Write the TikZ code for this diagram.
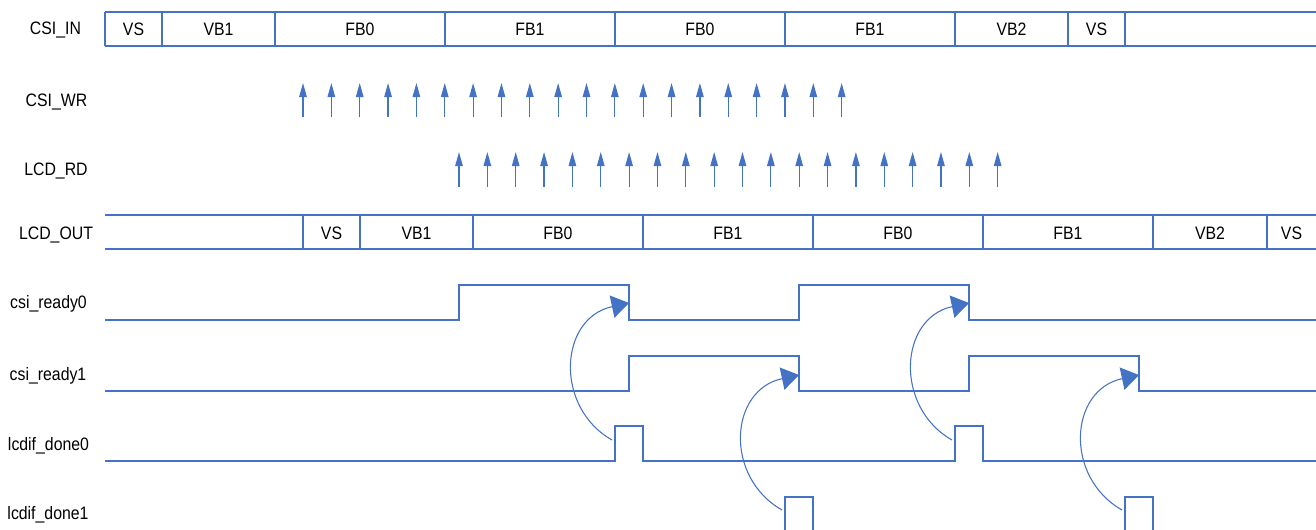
\documentclass[tikz,border=0pt]{standalone}
\usepackage{fontspec}
\setmainfont{Liberation Sans}[FakeStretch=0.88]
\usetikzlibrary{arrows.meta}
\definecolor{wblue}{HTML}{4472C4}
\begin{document}
\begin{tikzpicture}[x=0.75pt,y=-0.75pt,
  wire/.style={draw=wblue,line width=0.9pt},
  lbl/.style={font=\fontsize{13.5}{16}\selectfont,inner sep=0pt,anchor=base},
  tick/.style={draw=wblue,line width=0.9pt,-{Triangle[length=10.5pt,width=5.6pt]}},
  bendarrow/.style={draw=wblue,line width=0.8pt,-{Triangle[length=13pt,width=17pt]}},
]
\useasboundingbox (0,0) rectangle (1316,529);

% row labels
\node[lbl] (lcsiin)  at (55.5,34.3)  {CSI\_IN};
\node[lbl] (lcsiwr)  at (56.5,106)   {CSI\_WR};
\node[lbl] (llcdrd)  at (56,175)     {LCD\_RD};
\node[lbl] (llcdout) at (56,239)     {LCD\_OUT};
\node[lbl] (lrdy0)   at (48.5,308.7) {csi\_ready0};
\node[lbl] (lrdy1)   at (48,380)     {csi\_ready1};
\node[lbl] (ldone0)  at (48.5,450.3) {lcdif\_done0};
\node[lbl] (ldone1)  at (48,519.3)   {lcdif\_done1};

% CSI_IN bus
\draw[wire] (105,12) -- (1316,12);
\draw[wire] (105,46) -- (1316,46);
\foreach \x in {105,162,275,445,615,785,955,1068,1125}
  \draw[wire] (\x,12) -- (\x,46);
\foreach \x/\t/\n in {133.5/VS/a,218.5/VB1/b,360/FB0/c,530/FB1/d,700/FB0/e,870/FB1/f,1011.5/VB2/g,1096.5/VS/h}
  \node[lbl] (in\n) at (\x,35.3) {\t};

% LCD_OUT bus
\draw[wire] (105,215) -- (1316,215);
\draw[wire] (105,249) -- (1316,249);
\foreach \x in {303,360,473,643,813,983,1153,1267}
  \draw[wire] (\x,215) -- (\x,249);
\foreach \x/\t/\n in {331.5/VS/a,416.5/VB1/b,558/FB0/c,728/FB1/d,898/FB0/e,1068/FB1/f,1210/VB2/g,1291.5/VS/h}
  \node[lbl] (out\n) at (\x,239) {\t};

% CSI_WR and LCD_RD strobes
\foreach \i in {0,...,19} {
  \coordinate (wb\i) at ({303+28.35*\i},117);
  \coordinate (wt\i) at ({303+28.35*\i},83);
  \draw[tick] (wb\i) -- (wt\i);
  \coordinate (rb\i) at ({459+28.35*\i},187);
  \coordinate (rt\i) at ({459+28.35*\i},152);
  \draw[tick] (rb\i) -- (rt\i);
}

% waveforms
\draw[wire] (105,320) -| (459,285) -| (629,320) -| (799,285) -| (969,320) -- (1316,320);
\draw[wire] (105,391) -| (629,356) -| (799,391) -| (969,356) -| (1139,391) -- (1316,391);
\draw[wire] (105,461) -| (615,426) -| (643,461) -| (955,426) -| (983,461) -- (1316,461);
\draw[wire] (785,530) -- (785,497) -- (813,497) -- (813,530);
\draw[wire] (1125,530) -- (1125,497) -- (1153,497) -- (1153,530);

% causal arrows
\coordinate (s1) at (612,440);  \coordinate (e1) at (629,303);
\coordinate (s2) at (782,510);  \coordinate (e2) at (799,375);
\coordinate (s3) at (952,440);  \coordinate (e3) at (969,303);
\coordinate (s4) at (1122,510); \coordinate (e4) at (1139,375);
\foreach \k in {1,2,3,4}
  \draw[bendarrow] (s\k) .. controls +(-58,-33) and +(-70,15) .. (e\k);
\end{tikzpicture}
\end{document}
